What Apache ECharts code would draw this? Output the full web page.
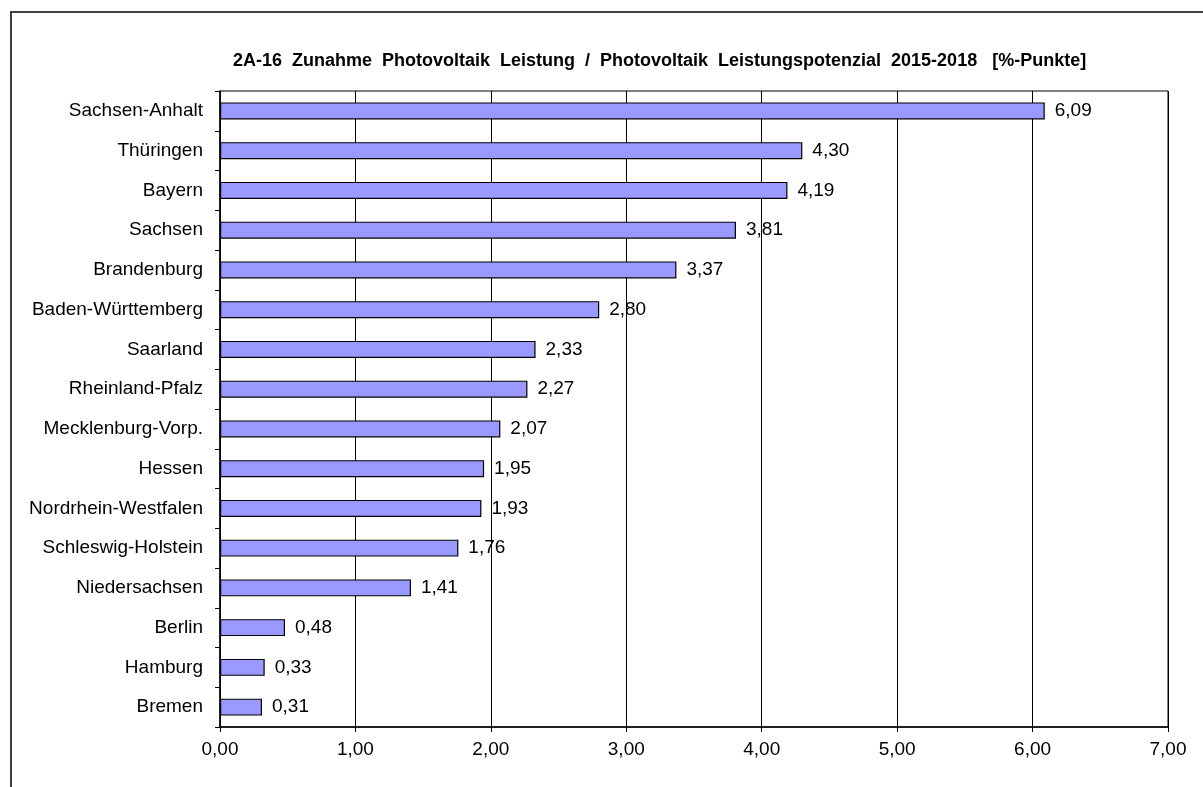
<!DOCTYPE html>
<html>
<head>
<meta charset="utf-8">
<script src="https://cdn.jsdelivr.net/npm/echarts@6/dist/echarts.min.js"></script>
<style>
  html, body { margin: 0; padding: 0; background: #fff; }
  #chart { width: 1203px; height: 787px; }
</style>
</head>
<body>
<div id="chart"></div>
<script>
const laender = ['Sachsen-Anhalt', 'Thüringen', 'Bayern', 'Sachsen', 'Brandenburg', 'Baden-Württemberg',
  'Saarland', 'Rheinland-Pfalz', 'Mecklenburg-Vorp.', 'Hessen', 'Nordrhein-Westfalen', 'Schleswig-Holstein',
  'Niedersachsen', 'Berlin', 'Hamburg', 'Bremen']
const zunahme = [6.09, 4.30, 4.19, 3.81, 3.37, 2.80, 2.33, 2.27, 2.07, 1.95, 1.93, 1.76, 1.41, 0.48, 0.33, 0.31]

const fmt = v => Number(v).toFixed(2).replace('.', ',')
const font = 'Liberation Sans, Arial, sans-serif'

const c = echarts.init(document.getElementById('chart'))
c.setOption({
  animation: false,
  textStyle: { fontFamily: font },
  graphic: [{
    type: 'rect', silent: true,
    shape: { x: 11, y: 12, width: 1400, height: 1000 },
    style: { fill: 'none', stroke: '#404040', lineWidth: 2 }
  }],
  title: {
    text: '2A-16  Zunahme  Photovoltaik  Leistung  /  Photovoltaik  Leistungspotenzial  2015-2018   [%-Punkte]',
    left: 228, top: 47,
    textStyle: { fontSize: 18, fontWeight: 'bold', color: '#000', fontFamily: font }
  },
  grid: { left: 220, right: 35, top: 91, bottom: 60, show: true, borderColor: '#000', borderWidth: 1 },
  xAxis: {
    type: 'value', min: 0, max: 7, interval: 1,
    axisLine: { show: true, lineStyle: { color: '#000', width: 1.5 } },
    axisTick: { show: true, length: 5, lineStyle: { color: '#000' } },
    axisLabel: { formatter: fmt, fontSize: 19, color: '#000', margin: 13 },
    splitLine: { show: true, lineStyle: { color: '#000', width: 1 } }
  },
  yAxis: {
    type: 'category', data: laender, inverse: true,
    axisLine: { lineStyle: { color: '#000', width: 1.5 } },
    axisTick: { show: true, length: 5, lineStyle: { color: '#000' } },
    axisLabel: { fontSize: 19, color: '#000', margin: 17 }
  },
  series: [{
    type: 'bar', data: zunahme, barWidth: 17,
    itemStyle: { color: '#9999ff', borderColor: '#000', borderWidth: 1.2 },
    label: { show: true, position: 'right', distance: 10, fontSize: 19, color: '#000', formatter: p => fmt(p.value) }
  }]
})
</script>
</body>
</html>
